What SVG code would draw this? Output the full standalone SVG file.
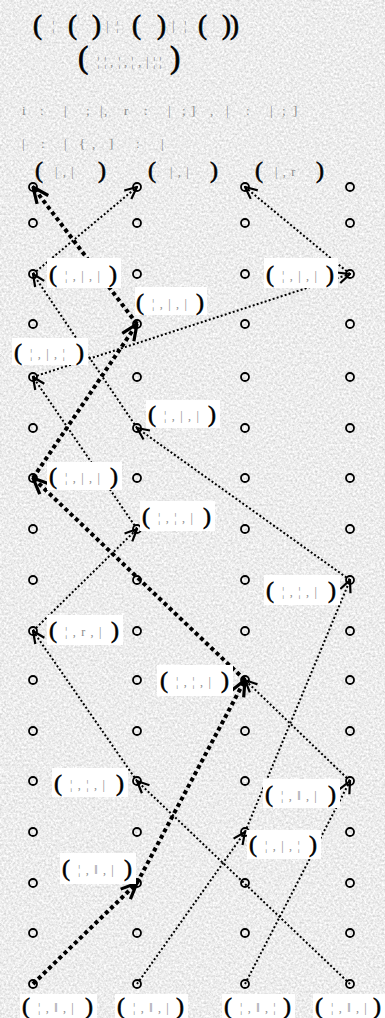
<svg xmlns="http://www.w3.org/2000/svg" width="385" height="1018" viewBox="0 0 385 1018">
<style>
.n{fill:none;stroke:#000;stroke-width:1.8}
.thin{fill:none;stroke:#000;stroke-width:2;stroke-dasharray:2 2.2;marker-end:url(#ah)}
.thick{fill:none;stroke:#000;stroke-width:4;stroke-dasharray:4 3.2;marker-end:url(#ahb)}
.box{fill:#fff}
.p{font-family:"Liberation Serif",serif;font-size:24px;fill:#000;stroke:#000;stroke-width:0.6}
.pt{font-family:"Liberation Serif",serif;font-size:27px;fill:#000;stroke:#000;stroke-width:0.7}
.g{font-family:"Liberation Serif",serif;font-size:12px;letter-spacing:1.2px;fill:#8a8a8a}
.gl{font-family:"Liberation Serif",serif;font-size:13px;fill:#8a8a8a;stroke:none}
</style>
<defs>
<filter id="noise" x="0" y="0" width="100%" height="100%">
<feTurbulence type="fractalNoise" baseFrequency="0.45" numOctaves="3" seed="7"/>
<feColorMatrix type="matrix" values="0.55 0 0 0 0.57  0.55 0 0 0 0.57  0.55 0 0 0 0.57  0 0 0 0 1"/>
</filter>
<marker id="ah" viewBox="0 0 14 14" refX="13" refY="7" markerWidth="14" markerHeight="14" markerUnits="userSpaceOnUse" orient="auto">
<path d="M1,1.5 L13,7 L1,12.5" fill="none" stroke="#000" stroke-width="2.2"/>
</marker>
<marker id="ahb" viewBox="0 0 18 18" refX="17" refY="9" markerWidth="18" markerHeight="18" markerUnits="userSpaceOnUse" orient="auto">
<path d="M1,2 L17,9 L1,16" fill="none" stroke="#000" stroke-width="3.2"/>
</marker>
</defs>
<rect width="385" height="1018" fill="#d6d6d6"/>
<rect width="385" height="1018" filter="url(#noise)"/>

<g id="title">
<text class="pt" y="34"><tspan x="33">(</tspan><tspan class="gl" x="52" y="30">¦</tspan><tspan x="68" y="34">(</tspan><tspan x="92">)</tspan><tspan class="gl" x="106 116" y="30">|¦</tspan><tspan x="132" y="34">(</tspan><tspan x="157">)</tspan><tspan class="gl" x="172 184" y="30">|¦</tspan><tspan x="198 222 230" y="34">())</tspan></text>
<text class="pt" y="68" style="font-size:31px"><tspan x="78">(</tspan><tspan class="gl" x="97 104 110 118 124 131 138 146 153 159" y="66">¦¦,¦,¦,|¦¦</tspan><tspan x="170" y="68">)</tspan></text>
<text class="gl" x="22 40 64 86 100 104 124 144 168 182 191 210 226 246 270 282 293" y="115">i:|;|,r:|;],|:|;]</text>
<text class="gl" x="22 41 64 79 92 109 136 161" y="148">|:|{,]:|</text>
</g>

<g id="headers">
<text class="p" x="35" y="178">(</text><text class="g" x="55" y="176">| , |</text><text class="p" x="98" y="178">)</text>
<text class="p" x="148" y="178">(</text><text class="g" x="170" y="176">| , |</text><text class="p" x="210" y="178">)</text>
<text class="p" x="255" y="178">(</text><text class="g" x="275" y="176">| , r</text><text class="p" x="316" y="178">)</text>
</g>

<g id="connectors">
<line class="thin" x1="33" y1="274" x2="137" y2="187"/>
<line class="thin" x1="350" y1="274" x2="245" y2="187"/>
<line class="thin" x1="33" y1="377" x2="350" y2="274"/>
<line class="thin" x1="137" y1="428" x2="33" y2="274"/>
<line class="thin" x1="350" y1="580" x2="137" y2="428"/>
<line class="thin" x1="137" y1="529" x2="33" y2="377"/>
<line class="thin" x1="33" y1="631" x2="137" y2="529"/>
<line class="thin" x1="137" y1="781" x2="33" y2="631"/>
<line class="thin" x1="350" y1="984" x2="137" y2="781"/>
<line class="thin" x1="137" y1="984" x2="245" y2="832"/>
<line class="thin" x1="245" y1="832" x2="350" y2="580"/>
<line class="thin" x1="245" y1="984" x2="350" y2="781"/>
<line class="thin" x1="350" y1="781" x2="245" y2="680"/>
<line class="thick" x1="137" y1="324" x2="33" y2="187"/>
<line class="thick" x1="33" y1="478" x2="137" y2="324"/>
<line class="thick" x1="245" y1="680" x2="33" y2="478"/>
<line class="thick" x1="137" y1="883" x2="245" y2="680"/>
<line class="thick" x1="33" y1="984" x2="137" y2="883"/>
</g>

<g id="nodes">
<g id="c0"><circle class="n" cx="33" cy="187" r="4"/><circle class="n" cx="33" cy="223" r="4"/><circle class="n" cx="33" cy="274" r="4"/><circle class="n" cx="33" cy="324" r="4"/><circle class="n" cx="33" cy="377" r="4"/><circle class="n" cx="33" cy="428" r="4"/><circle class="n" cx="33" cy="478" r="4"/><circle class="n" cx="33" cy="529" r="4"/><circle class="n" cx="33" cy="580" r="4"/><circle class="n" cx="33" cy="631" r="4"/><circle class="n" cx="33" cy="680" r="4"/><circle class="n" cx="33" cy="731" r="4"/><circle class="n" cx="33" cy="781" r="4"/><circle class="n" cx="33" cy="832" r="4"/><circle class="n" cx="33" cy="883" r="4"/><circle class="n" cx="33" cy="933" r="4"/><circle class="n" cx="33" cy="984" r="4"/></g>
<g id="c1"><circle class="n" cx="137" cy="187" r="4"/><circle class="n" cx="137" cy="223" r="4"/><circle class="n" cx="137" cy="274" r="4"/><circle class="n" cx="137" cy="324" r="4"/><circle class="n" cx="137" cy="377" r="4"/><circle class="n" cx="137" cy="428" r="4"/><circle class="n" cx="137" cy="478" r="4"/><circle class="n" cx="137" cy="529" r="4"/><circle class="n" cx="137" cy="580" r="4"/><circle class="n" cx="137" cy="631" r="4"/><circle class="n" cx="137" cy="680" r="4"/><circle class="n" cx="137" cy="731" r="4"/><circle class="n" cx="137" cy="781" r="4"/><circle class="n" cx="137" cy="832" r="4"/><circle class="n" cx="137" cy="883" r="4"/><circle class="n" cx="137" cy="933" r="4"/><circle class="n" cx="137" cy="984" r="4"/></g>
<g id="c2"><circle class="n" cx="245" cy="187" r="4"/><circle class="n" cx="245" cy="223" r="4"/><circle class="n" cx="245" cy="274" r="4"/><circle class="n" cx="245" cy="324" r="4"/><circle class="n" cx="245" cy="377" r="4"/><circle class="n" cx="245" cy="428" r="4"/><circle class="n" cx="245" cy="478" r="4"/><circle class="n" cx="245" cy="529" r="4"/><circle class="n" cx="245" cy="580" r="4"/><circle class="n" cx="245" cy="631" r="4"/><circle class="n" cx="245" cy="680" r="4"/><circle class="n" cx="245" cy="731" r="4"/><circle class="n" cx="245" cy="781" r="4"/><circle class="n" cx="245" cy="832" r="4"/><circle class="n" cx="245" cy="883" r="4"/><circle class="n" cx="245" cy="933" r="4"/><circle class="n" cx="245" cy="984" r="4"/></g>
<g id="c3"><circle class="n" cx="350" cy="187" r="4"/><circle class="n" cx="350" cy="223" r="4"/><circle class="n" cx="350" cy="274" r="4"/><circle class="n" cx="350" cy="324" r="4"/><circle class="n" cx="350" cy="377" r="4"/><circle class="n" cx="350" cy="428" r="4"/><circle class="n" cx="350" cy="478" r="4"/><circle class="n" cx="350" cy="529" r="4"/><circle class="n" cx="350" cy="580" r="4"/><circle class="n" cx="350" cy="631" r="4"/><circle class="n" cx="350" cy="680" r="4"/><circle class="n" cx="350" cy="731" r="4"/><circle class="n" cx="350" cy="781" r="4"/><circle class="n" cx="350" cy="832" r="4"/><circle class="n" cx="350" cy="883" r="4"/><circle class="n" cx="350" cy="933" r="4"/><circle class="n" cx="350" cy="984" r="4"/></g>
</g>

<g id="labels">
<g id="l1"><rect class="box" x="47" y="258" width="74" height="30"/><text class="p" x="49" y="282">(</text><text class="g" x="65" y="280">¦ , | , |</text><text class="p" x="109" y="282">)</text></g>
<g id="l2"><rect class="box" x="264" y="258" width="74" height="30"/><text class="p" x="266" y="282">(</text><text class="g" x="282" y="280">¦ , | , |</text><text class="p" x="326" y="282">)</text></g>
<g id="l3"><rect class="box" x="135" y="287" width="72" height="28"/><text class="p" x="136" y="310">(</text><text class="g" x="152" y="308">¦ , | , |</text><text class="p" x="196" y="310">)</text></g>
<g id="l4"><rect class="box" x="12" y="338" width="76" height="27"/><text class="p" x="14" y="360">(</text><text class="g" x="30" y="358">¦ , | , ¦</text><text class="p" x="76" y="360">)</text></g>
<g id="l5"><rect class="box" x="146" y="400" width="74" height="28"/><text class="p" x="148" y="422">(</text><text class="g" x="164" y="420">¦ , | , |</text><text class="p" x="208" y="422">)</text></g>
<g id="l6"><rect class="box" x="47" y="462" width="75" height="28"/><text class="p" x="49" y="484">(</text><text class="g" x="65" y="482">¦ , | , |</text><text class="p" x="110" y="484">)</text></g>
<g id="l7"><rect class="box" x="140" y="501" width="75" height="30"/><text class="p" x="142" y="524">(</text><text class="g" x="158" y="522">¦ , ¦ , |</text><text class="p" x="203" y="524">)</text></g>
<g id="l8"><rect class="box" x="264" y="575" width="76" height="30"/><text class="p" x="266" y="598">(</text><text class="g" x="282" y="596">¦ , ¦ , |</text><text class="p" x="328" y="598">)</text></g>
<g id="l9"><rect class="box" x="47" y="615" width="76" height="30"/><text class="p" x="49" y="638">(</text><text class="g" x="65" y="636">¦ , r , |</text><text class="p" x="111" y="638">)</text></g>
<g id="l10"><rect class="box" x="157" y="665" width="76" height="31"/><text class="p" x="160" y="688">(</text><text class="g" x="176" y="686">¦ , ¦ , |</text><text class="p" x="221" y="688">)</text></g>
<g id="l11"><rect class="box" x="52" y="768" width="76" height="29"/><text class="p" x="54" y="791">(</text><text class="g" x="70" y="789">¦ , ¦ , |</text><text class="p" x="116" y="791">)</text></g>
<g id="l12"><rect class="box" x="263" y="779" width="77" height="29"/><text class="p" x="265" y="802">(</text><text class="g" x="281" y="800">¦ , ‖ , |</text><text class="p" x="328" y="802">)</text></g>
<g id="l13"><rect class="box" x="247" y="830" width="74" height="29"/><text class="p" x="249" y="852">(</text><text class="g" x="265" y="850">¦ , | , ¦</text><text class="p" x="309" y="852">)</text></g>
<g id="l14"><rect class="box" x="60" y="853" width="76" height="31"/><text class="p" x="62" y="876">(</text><text class="g" x="78" y="874">¦ , ‖ , |</text><text class="p" x="124" y="876">)</text></g>
<g id="b1"><rect class="box" x="20" y="994" width="77" height="24"/><text class="p" x="22" y="1014">(</text><text class="g" x="38" y="1012">¦ , ‖ , |</text><text class="p" x="85" y="1014">)</text></g>
<g id="b2"><rect class="box" x="115" y="994" width="73" height="24"/><text class="p" x="117" y="1014">(</text><text class="g" x="133" y="1012">¦ , ‖ , |</text><text class="p" x="176" y="1014">)</text></g>
<g id="b3"><rect class="box" x="222" y="994" width="73" height="24"/><text class="p" x="224" y="1014">(</text><text class="g" x="240" y="1012">¦ , ‖ , ¦</text><text class="p" x="283" y="1014">)</text></g>
<g id="b4"><rect class="box" x="313" y="994" width="72" height="24"/><text class="p" x="315" y="1014">(</text><text class="g" x="331" y="1012">¦ , ‖ , |</text><text class="p" x="373" y="1014">)</text></g>
</g>
</svg>
